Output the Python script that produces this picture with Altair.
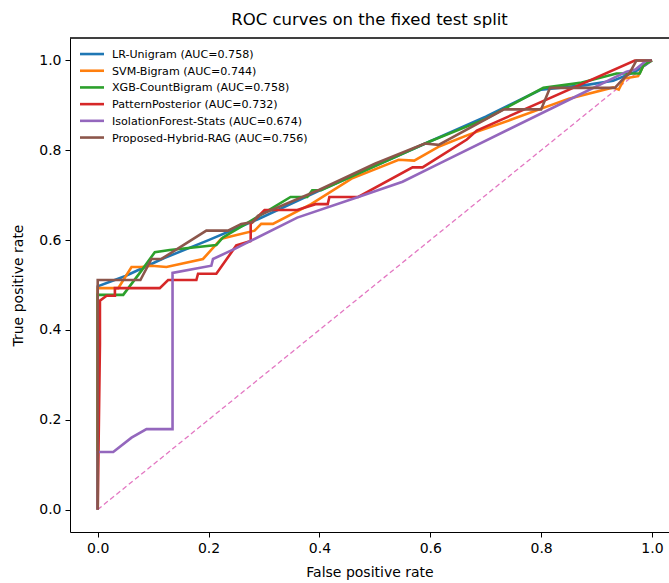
import altair as alt
import pandas as pd

# ---- data ----
model_names = [
    "LR-Unigram (AUC=0.758)",
    "SVM-Bigram (AUC=0.744)",
    "XGB-CountBigram (AUC=0.758)",
    "PatternPosterior (AUC=0.732)",
    "IsolationForest-Stats (AUC=0.674)",
    "Proposed-Hybrid-RAG (AUC=0.756)",
]
model_colors = ["#1f77b4", "#ff7f0e", "#2ca02c", "#d62728", "#9467bd", "#8c564b"]

lr_fpr = [0, 0, 0.05, 0.12, 0.2, 0.29, 0.4, 0.5, 0.6, 0.7, 0.8, 0.88, 0.93, 0.97, 1.0]
lr_tpr = [0, 0.497, 0.52, 0.56, 0.60, 0.647, 0.71, 0.765, 0.82, 0.875, 0.935, 0.945, 0.955, 0.975, 1.0]

svm_fpr = [0, 0, 0.037, 0.061, 0.079, 0.097, 0.124, 0.19, 0.223, 0.283, 0.295, 0.316, 0.385,
           0.458, 0.543, 0.571, 0.617, 0.672, 0.75, 0.85, 0.93, 0.94, 0.95, 0.975, 0.985, 1.0]
svm_tpr = [0, 0.493, 0.493, 0.540, 0.540, 0.543, 0.540, 0.558, 0.603, 0.621, 0.636, 0.636, 0.680,
           0.737, 0.779, 0.777, 0.809, 0.836, 0.87, 0.915, 0.94, 0.935, 0.96, 0.965, 0.99, 1.0]

xgb_fpr = [0, 0, 0.046, 0.079, 0.103, 0.13, 0.214, 0.226, 0.262, 0.348, 0.378, 0.387, 0.403,
           0.5, 0.6, 0.7, 0.804, 0.87, 0.936, 0.978, 0.985, 1.0]
xgb_tpr = [0, 0.478, 0.478, 0.532, 0.573, 0.578, 0.589, 0.606, 0.632, 0.696, 0.696, 0.711, 0.711,
           0.765, 0.82, 0.87, 0.939, 0.95, 0.971, 0.971, 0.99, 1.0]

pp_fpr = [0, 0.004, 0.004, 0.016, 0.031, 0.031, 0.112, 0.127, 0.178, 0.181, 0.214, 0.25, 0.276,
          0.276, 0.301, 0.36, 0.393, 0.415, 0.418, 0.47, 0.568, 0.586, 0.666, 0.684, 0.969, 1.0]
pp_tpr = [0, 0.368, 0.465, 0.476, 0.476, 0.493, 0.493, 0.511, 0.511, 0.525, 0.525, 0.588, 0.598,
          0.636, 0.667, 0.667, 0.680, 0.680, 0.696, 0.696, 0.762, 0.762, 0.824, 0.844, 1.0, 1.0]

if_fpr = [0, 0, 0.028, 0.061, 0.088, 0.135, 0.135, 0.205, 0.208, 0.25, 0.274, 0.36, 0.47, 0.55,
          0.617, 0.868, 0.954, 0.97, 0.99, 1.0]
if_tpr = [0, 0.128, 0.128, 0.160, 0.179, 0.179, 0.527, 0.543, 0.558, 0.582, 0.597, 0.65, 0.696,
          0.730, 0.771, 0.923, 0.975, 0.98, 1.0, 1.0]

rag_fpr = [0, 0, 0.077, 0.097, 0.115, 0.196, 0.235, 0.259, 0.28, 0.289, 0.4, 0.5, 0.59, 0.615,
           0.733, 0.80, 0.816, 0.933, 0.945, 0.96, 0.972, 1.0]
rag_tpr = [0, 0.511, 0.511, 0.558, 0.558, 0.621, 0.621, 0.636, 0.64, 0.654, 0.712, 0.77, 0.815,
           0.812, 0.891, 0.891, 0.939, 0.939, 0.955, 0.973, 1.0, 1.0]

diag_fpr = [0, 1]
diag_tpr = [0, 1]

x_ticks = [0.0, 0.2, 0.4, 0.6, 0.8, 1.0]
y_ticks = [0.0, 0.2, 0.4, 0.6, 0.8, 1.0]

# ---- build tables ----
series = [(lr_fpr, lr_tpr), (svm_fpr, svm_tpr), (xgb_fpr, xgb_tpr),
          (pp_fpr, pp_tpr), (if_fpr, if_tpr), (rag_fpr, rag_tpr)]
rows = []
for k, (name, (fx, ty)) in enumerate(zip(model_names, series)):
    for i, (a, b) in enumerate(zip(fx, ty)):
        rows.append({"model": name, "fpr": a, "tpr": b, "idx": i, "layer": k})
df = pd.DataFrame(rows)
diag_df = pd.DataFrame({"fpr": diag_fpr, "tpr": diag_tpr, "idx": [0, 1]})

FONT = "DejaVu Sans"
W, H = 599, 494

xscale = alt.Scale(domain=[-0.05, 1.0307], nice=False, zero=False)
yscale = alt.Scale(domain=[-0.05, 1.05], nice=False, zero=False)

xenc = alt.X("fpr:Q", scale=xscale,
             axis=alt.Axis(values=x_ticks, format=".1f", title="False positive rate"))
yenc = alt.Y("tpr:Q", scale=yscale,
             axis=alt.Axis(values=y_ticks, format=".1f", title="True positive rate"))

diag = alt.Chart(diag_df).mark_line(
    color="#e377c2", strokeWidth=1.3, strokeDash=[5, 3]
).encode(x=xenc, y=yenc, order="idx:Q")

curves = alt.Chart(df).mark_line(strokeWidth=2.6).encode(
    x=xenc,
    y=yenc,
    color=alt.Color("model:N", sort=model_names,
                    scale=alt.Scale(domain=model_names, range=model_colors),
                    legend=alt.Legend(title=None)),
    detail="model:N",
    order="idx:Q",
)

top_frame = alt.Chart(diag_df).mark_rule(color="black", strokeWidth=1).encode(
    x=alt.value(0), x2=alt.value(W), y=alt.value(0)
)

chart = alt.layer(diag, curves, top_frame).properties(
    width=W,
    height=H,
    autosize=alt.AutoSizeParams(type="none"),
    padding={"left": 70, "top": 38, "right": 0, "bottom": 51},
    title=alt.TitleParams("ROC curves on the fixed test split", fontSize=16.5,
                          fontWeight="normal", font=FONT, color="black", offset=9),
).configure_view(
    stroke=None
).configure_axis(
    grid=False,
    labelFont=FONT, labelFontSize=14, labelColor="black",
    titleFont=FONT, titleFontSize=14, titleFontWeight="normal", titleColor="black",
    domainColor="black", domainWidth=1, tickColor="black", tickSize=5, tickWidth=1,
    labelPadding=4,
).configure_axisX(
    titlePadding=10
).configure_axisY(
    titlePadding=13
).configure_legend(
    orient="none", legendX=8.5, legendY=6.5,
    symbolType="M-1,-0.33H1", symbolSize=576, symbolStrokeWidth=2.6,
    labelFont=FONT, labelFontSize=11.1, labelColor="black", labelOffset=6.5,
    labelBaseline="alphabetic",
    rowPadding=0.7, padding=0, labelLimit=400,
)

chart.save("out.html", embed_options={"renderer": "svg", "actions": False})
